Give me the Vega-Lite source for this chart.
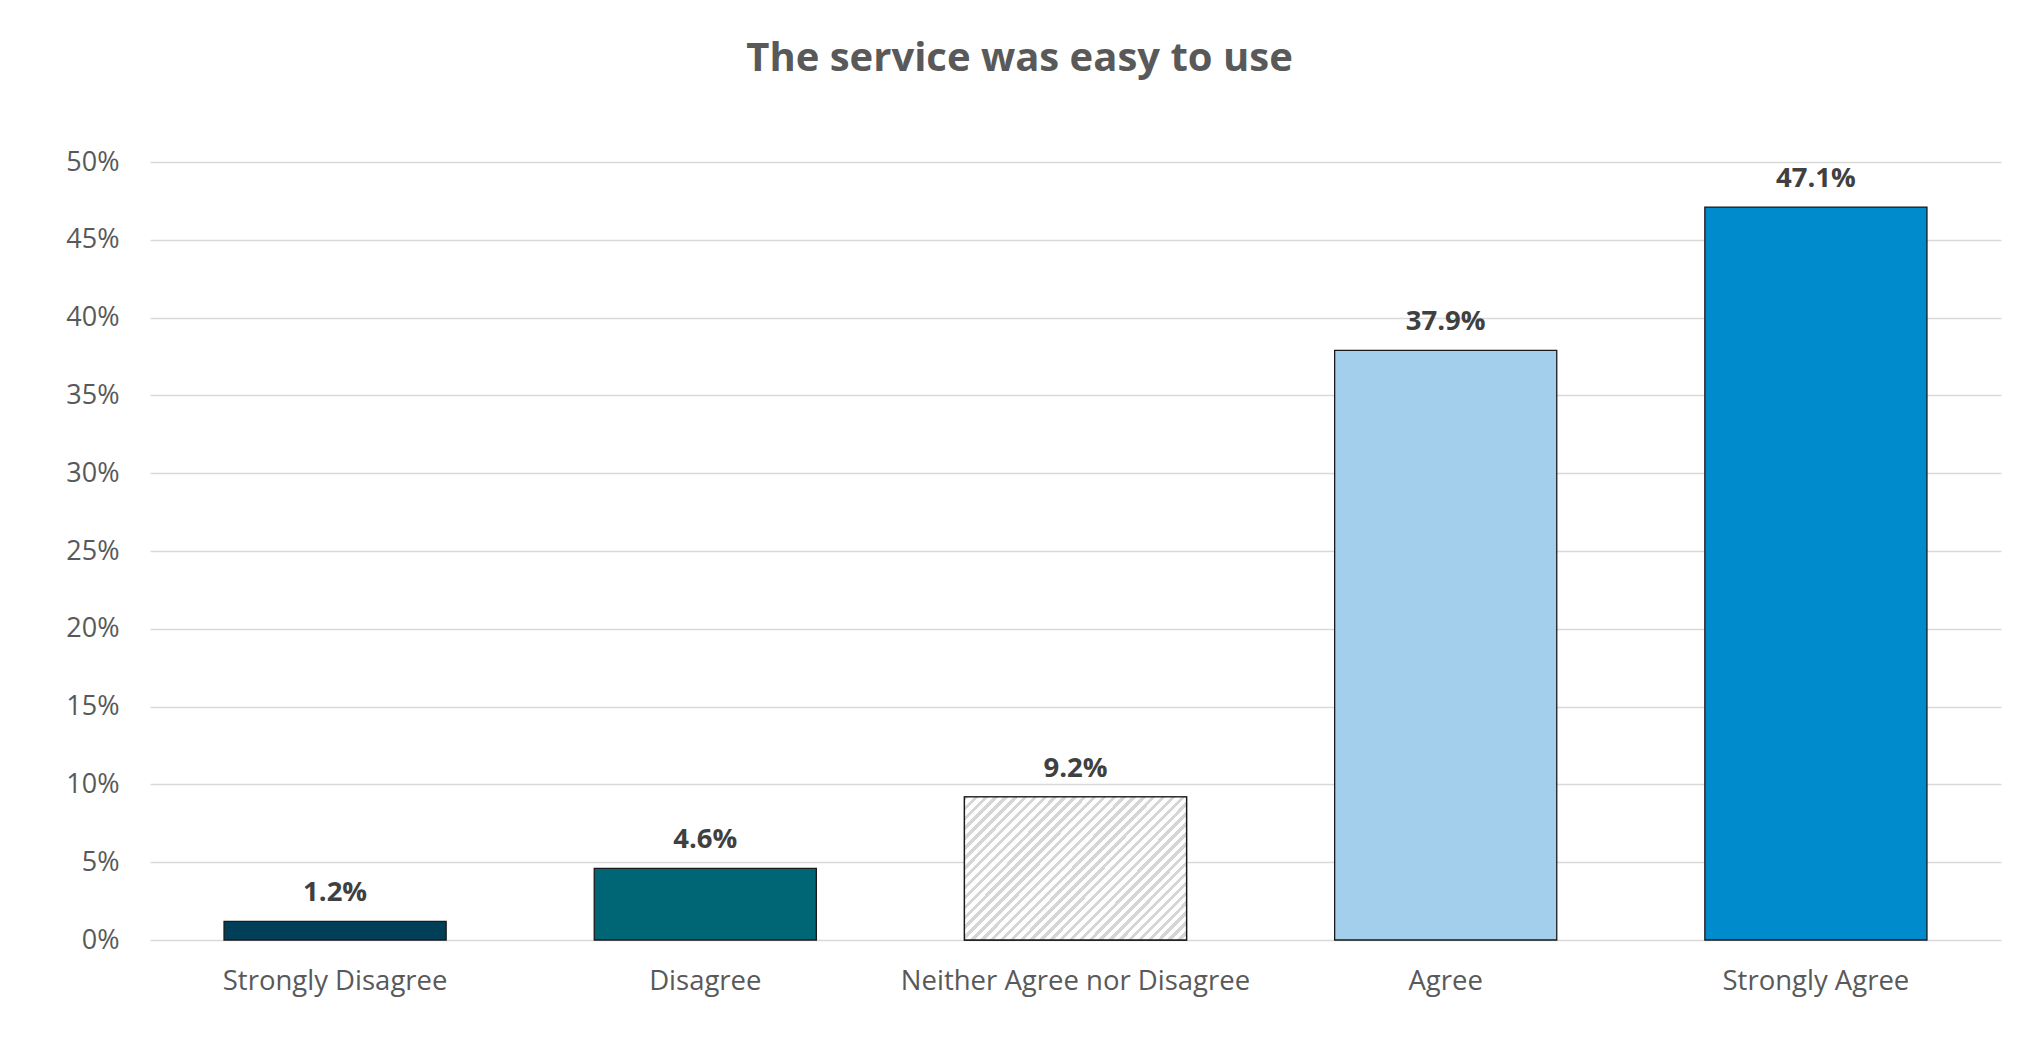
{
  "$schema": "https://vega.github.io/schema/vega-lite/v6.json",
  "width": 1851,
  "height": 778,
  "autosize": {"type": "none"},
  "padding": {"left": 150, "top": 162, "right": 22, "bottom": 113},
  "background": "white",
  "config": {"view": {"stroke": null}, "font": "Open Sans"},
  "title": {
    "text": "The service was easy to use",
    "font": "Open Sans",
    "fontSize": 40,
    "fontWeight": "bold",
    "color": "#595959",
    "anchor": "middle",
    "dx": -56,
    "offset": 69
  },
  "data": {
    "values": [
      {"response": "Strongly Disagree", "share": 0.012},
      {"response": "Disagree", "share": 0.046},
      {"response": "Neither Agree nor Disagree", "share": 0.092},
      {"response": "Agree", "share": 0.379},
      {"response": "Strongly Agree", "share": 0.471}
    ]
  },
  "encoding": {
    "x": {
      "field": "response",
      "type": "nominal",
      "sort": null,
      "scale": {"paddingInner": 0.4, "paddingOuter": 0.2},
      "axis": {
        "title": null,
        "labelAngle": 0,
        "labelFontSize": 27.5,
        "labelColor": "#595959",
        "labelFont": "Open Sans",
        "labelPadding": 27,
        "labelLimit": 0,
        "domain": false,
        "ticks": false
      }
    },
    "y": {
      "field": "share",
      "type": "quantitative",
      "scale": {"domain": [0, 0.5], "nice": false},
      "axis": {
        "title": null,
        "values": [0, 0.05, 0.1, 0.15, 0.2, 0.25, 0.3, 0.35, 0.4, 0.45, 0.5],
        "format": ".0%",
        "labelFontSize": 27,
        "labelColor": "#595959",
        "labelFont": "Open Sans",
        "labelPadding": 31,
        "domain": false,
        "ticks": false,
        "gridColor": "#d9d9d9",
        "gridWidth": 1.4
      }
    }
  },
  "layer": [
    {
      "mark": {"type": "bar", "stroke": "#1a1a1a", "strokeWidth": 1.3},
      "encoding": {
        "color": {
          "field": "response",
          "type": "nominal",
          "legend": null,
          "scale": {
            "domain": ["Strongly Disagree", "Disagree", "Neither Agree nor Disagree", "Agree", "Strongly Agree"],
            "range": ["#003f57", "#006574", "#ffffff", "#a3cfec", "#008bcc"]
          }
        }
      }
    },
    {
      "transform": [{"filter": "datum.response === 'Neither Agree nor Disagree'"}],
      "mark": {
        "type": "bar",
        "stroke": "#1a1a1a",
        "strokeWidth": 1.3,
        "fill": {
          "gradient": "linear",
          "x1": 0, "y1": 0, "x2": 1.163, "y2": 0.746,
          "stops": [
            {"offset": 0, "color": "#d6d6d6"}, {"offset": 0.01216, "color": "#d6d6d6"}, {"offset": 0.01216, "color": "#ffffff"}, {"offset": 0.02703, "color": "#ffffff"},
            {"offset": 0.02703, "color": "#d6d6d6"}, {"offset": 0.03919, "color": "#d6d6d6"}, {"offset": 0.03919, "color": "#ffffff"}, {"offset": 0.05405, "color": "#ffffff"},
            {"offset": 0.05405, "color": "#d6d6d6"}, {"offset": 0.06622, "color": "#d6d6d6"}, {"offset": 0.06622, "color": "#ffffff"}, {"offset": 0.08108, "color": "#ffffff"},
            {"offset": 0.08108, "color": "#d6d6d6"}, {"offset": 0.09324, "color": "#d6d6d6"}, {"offset": 0.09324, "color": "#ffffff"}, {"offset": 0.10811, "color": "#ffffff"},
            {"offset": 0.10811, "color": "#d6d6d6"}, {"offset": 0.12027, "color": "#d6d6d6"}, {"offset": 0.12027, "color": "#ffffff"}, {"offset": 0.13514, "color": "#ffffff"},
            {"offset": 0.13514, "color": "#d6d6d6"}, {"offset": 0.14730, "color": "#d6d6d6"}, {"offset": 0.14730, "color": "#ffffff"}, {"offset": 0.16216, "color": "#ffffff"},
            {"offset": 0.16216, "color": "#d6d6d6"}, {"offset": 0.17432, "color": "#d6d6d6"}, {"offset": 0.17432, "color": "#ffffff"}, {"offset": 0.18919, "color": "#ffffff"},
            {"offset": 0.18919, "color": "#d6d6d6"}, {"offset": 0.20135, "color": "#d6d6d6"}, {"offset": 0.20135, "color": "#ffffff"}, {"offset": 0.21622, "color": "#ffffff"},
            {"offset": 0.21622, "color": "#d6d6d6"}, {"offset": 0.22838, "color": "#d6d6d6"}, {"offset": 0.22838, "color": "#ffffff"}, {"offset": 0.24324, "color": "#ffffff"},
            {"offset": 0.24324, "color": "#d6d6d6"}, {"offset": 0.25541, "color": "#d6d6d6"}, {"offset": 0.25541, "color": "#ffffff"}, {"offset": 0.27027, "color": "#ffffff"},
            {"offset": 0.27027, "color": "#d6d6d6"}, {"offset": 0.28243, "color": "#d6d6d6"}, {"offset": 0.28243, "color": "#ffffff"}, {"offset": 0.29730, "color": "#ffffff"},
            {"offset": 0.29730, "color": "#d6d6d6"}, {"offset": 0.30946, "color": "#d6d6d6"}, {"offset": 0.30946, "color": "#ffffff"}, {"offset": 0.32432, "color": "#ffffff"},
            {"offset": 0.32432, "color": "#d6d6d6"}, {"offset": 0.33649, "color": "#d6d6d6"}, {"offset": 0.33649, "color": "#ffffff"}, {"offset": 0.35135, "color": "#ffffff"},
            {"offset": 0.35135, "color": "#d6d6d6"}, {"offset": 0.36351, "color": "#d6d6d6"}, {"offset": 0.36351, "color": "#ffffff"}, {"offset": 0.37838, "color": "#ffffff"},
            {"offset": 0.37838, "color": "#d6d6d6"}, {"offset": 0.39054, "color": "#d6d6d6"}, {"offset": 0.39054, "color": "#ffffff"}, {"offset": 0.40541, "color": "#ffffff"},
            {"offset": 0.40541, "color": "#d6d6d6"}, {"offset": 0.41757, "color": "#d6d6d6"}, {"offset": 0.41757, "color": "#ffffff"}, {"offset": 0.43243, "color": "#ffffff"},
            {"offset": 0.43243, "color": "#d6d6d6"}, {"offset": 0.44459, "color": "#d6d6d6"}, {"offset": 0.44459, "color": "#ffffff"}, {"offset": 0.45946, "color": "#ffffff"},
            {"offset": 0.45946, "color": "#d6d6d6"}, {"offset": 0.47162, "color": "#d6d6d6"}, {"offset": 0.47162, "color": "#ffffff"}, {"offset": 0.48649, "color": "#ffffff"},
            {"offset": 0.48649, "color": "#d6d6d6"}, {"offset": 0.49865, "color": "#d6d6d6"}, {"offset": 0.49865, "color": "#ffffff"}, {"offset": 0.51351, "color": "#ffffff"},
            {"offset": 0.51351, "color": "#d6d6d6"}, {"offset": 0.52568, "color": "#d6d6d6"}, {"offset": 0.52568, "color": "#ffffff"}, {"offset": 0.54054, "color": "#ffffff"},
            {"offset": 0.54054, "color": "#d6d6d6"}, {"offset": 0.55270, "color": "#d6d6d6"}, {"offset": 0.55270, "color": "#ffffff"}, {"offset": 0.56757, "color": "#ffffff"},
            {"offset": 0.56757, "color": "#d6d6d6"}, {"offset": 0.57973, "color": "#d6d6d6"}, {"offset": 0.57973, "color": "#ffffff"}, {"offset": 0.59459, "color": "#ffffff"},
            {"offset": 0.59459, "color": "#d6d6d6"}, {"offset": 0.60676, "color": "#d6d6d6"}, {"offset": 0.60676, "color": "#ffffff"}, {"offset": 0.62162, "color": "#ffffff"},
            {"offset": 0.62162, "color": "#d6d6d6"}, {"offset": 0.63378, "color": "#d6d6d6"}, {"offset": 0.63378, "color": "#ffffff"}, {"offset": 0.64865, "color": "#ffffff"},
            {"offset": 0.64865, "color": "#d6d6d6"}, {"offset": 0.66081, "color": "#d6d6d6"}, {"offset": 0.66081, "color": "#ffffff"}, {"offset": 0.67568, "color": "#ffffff"},
            {"offset": 0.67568, "color": "#d6d6d6"}, {"offset": 0.68784, "color": "#d6d6d6"}, {"offset": 0.68784, "color": "#ffffff"}, {"offset": 0.70270, "color": "#ffffff"},
            {"offset": 0.70270, "color": "#d6d6d6"}, {"offset": 0.71486, "color": "#d6d6d6"}, {"offset": 0.71486, "color": "#ffffff"}, {"offset": 0.72973, "color": "#ffffff"},
            {"offset": 0.72973, "color": "#d6d6d6"}, {"offset": 0.74189, "color": "#d6d6d6"}, {"offset": 0.74189, "color": "#ffffff"}, {"offset": 0.75676, "color": "#ffffff"},
            {"offset": 0.75676, "color": "#d6d6d6"}, {"offset": 0.76892, "color": "#d6d6d6"}, {"offset": 0.76892, "color": "#ffffff"}, {"offset": 0.78378, "color": "#ffffff"},
            {"offset": 0.78378, "color": "#d6d6d6"}, {"offset": 0.79595, "color": "#d6d6d6"}, {"offset": 0.79595, "color": "#ffffff"}, {"offset": 0.81081, "color": "#ffffff"},
            {"offset": 0.81081, "color": "#d6d6d6"}, {"offset": 0.82297, "color": "#d6d6d6"}, {"offset": 0.82297, "color": "#ffffff"}, {"offset": 0.83784, "color": "#ffffff"},
            {"offset": 0.83784, "color": "#d6d6d6"}, {"offset": 0.85000, "color": "#d6d6d6"}, {"offset": 0.85000, "color": "#ffffff"}, {"offset": 0.86486, "color": "#ffffff"},
            {"offset": 0.86486, "color": "#d6d6d6"}, {"offset": 0.87703, "color": "#d6d6d6"}, {"offset": 0.87703, "color": "#ffffff"}, {"offset": 0.89189, "color": "#ffffff"},
            {"offset": 0.89189, "color": "#d6d6d6"}, {"offset": 0.90405, "color": "#d6d6d6"}, {"offset": 0.90405, "color": "#ffffff"}, {"offset": 0.91892, "color": "#ffffff"},
            {"offset": 0.91892, "color": "#d6d6d6"}, {"offset": 0.93108, "color": "#d6d6d6"}, {"offset": 0.93108, "color": "#ffffff"}, {"offset": 0.94595, "color": "#ffffff"},
            {"offset": 0.94595, "color": "#d6d6d6"}, {"offset": 0.95811, "color": "#d6d6d6"}, {"offset": 0.95811, "color": "#ffffff"}, {"offset": 0.97297, "color": "#ffffff"},
            {"offset": 0.97297, "color": "#d6d6d6"}, {"offset": 0.98514, "color": "#d6d6d6"}, {"offset": 0.98514, "color": "#ffffff"}, {"offset": 1, "color": "#ffffff"}
          ]
        }
      }
    },
    {
      "mark": {
        "type": "text",
        "dy": -20,
        "baseline": "alphabetic",
        "font": "Open Sans",
        "fontSize": 27.5,
        "fontWeight": "bold",
        "color": "#404040"
      },
      "encoding": {
        "text": {"field": "share", "type": "quantitative", "format": ".1%"}
      }
    }
  ]
}
